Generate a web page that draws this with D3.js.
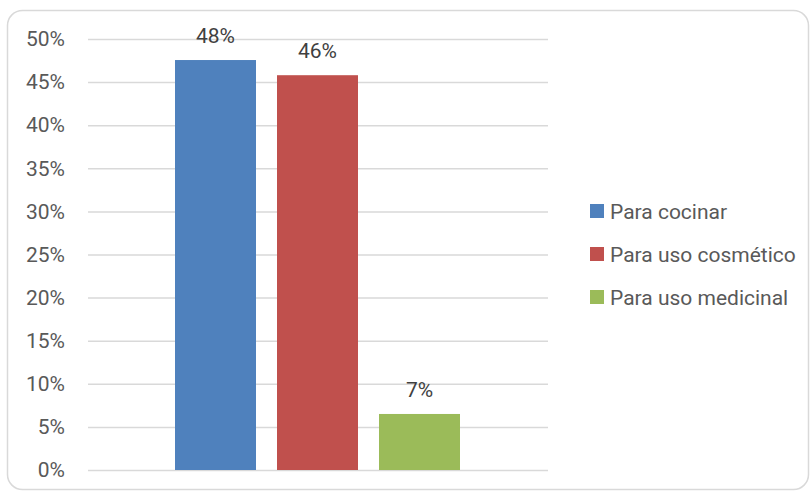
<!DOCTYPE html>
<html><head><meta charset="utf-8">
<script src="https://cdn.jsdelivr.net/npm/d3@7"></script>
<style>body{margin:0;background:#fff}svg{display:block}</style>
</head><body>
<script>
const series = ["Para cocinar", "Para uso cosmético", "Para uso medicinal"];
const values = [0.4756, 0.458, 0.065];
const labels = ["48%", "46%", "7%"];
const colors = ["#4f81bd", "#c0504d", "#9bbb59"];
const yTicks = [0, 0.05, 0.10, 0.15, 0.20, 0.25, 0.30, 0.35, 0.40, 0.45, 0.50];

const W = 812, H = 491;
const svg = d3.select("body").append("svg").attr("width", W).attr("height", H);
const font = "Roboto, 'Open Sans', sans-serif";

svg.append("rect").attr("x", 7.5).attr("y", 10.5).attr("width", 801).attr("height", 479)
  .attr("rx", 15).attr("fill", "#fff").attr("stroke", "#d9d9d9").attr("stroke-width", 1.5);

const x0 = 88, x1 = 548, yTop = 39, yBot = 470;
const y = d3.scaleLinear().domain([0, 0.5]).range([yBot, yTop]);
const x = d3.scaleBand().domain(series).range([x0 + 87, x1 - 88]).paddingInner(0.206).paddingOuter(0);

const yAxis = d3.axisLeft(y).tickValues(yTicks).tickFormat(d3.format(".0%")).tickSize(-(x1 - x0)).tickPadding(23);
const g = svg.append("g").attr("transform", `translate(${x0},0)`).call(yAxis);
g.select(".domain").remove();
g.selectAll(".tick line").attr("stroke", "#d9d9d9").attr("stroke-width", 1.5);
g.selectAll(".tick text").attr("fill", "#595959").style("font-family", font).style("font-size", "21px");

svg.selectAll("rect.bar").data(values).join("rect").attr("class", "bar")
  .attr("x", (d, i) => x(series[i])).attr("width", x.bandwidth())
  .attr("y", d => y(d)).attr("height", d => y(0) - y(d))
  .attr("fill", (d, i) => colors[i]);

svg.selectAll("text.lbl").data(values).join("text").attr("class", "lbl")
  .attr("x", (d, i) => x(series[i]) + x.bandwidth() / 2).attr("y", d => y(d) - 17)
  .attr("text-anchor", "middle").attr("fill", "#404040")
  .style("font-family", font).style("font-size", "21px")
  .text((d, i) => labels[i]);

const leg = svg.selectAll("g.leg").data(series).join("g").attr("class", "leg")
  .attr("transform", (d, i) => `translate(590,${211 + i * 43})`);
leg.append("rect").attr("x", 0).attr("y", -7).attr("width", 14).attr("height", 14).attr("fill", (d, i) => colors[i]);
leg.append("text").attr("x", 20).attr("y", 0).attr("dy", "0.36em").attr("fill", "#595959")
  .style("font-family", font).style("font-size", "21px").text(d => d);
</script>
</body></html>
